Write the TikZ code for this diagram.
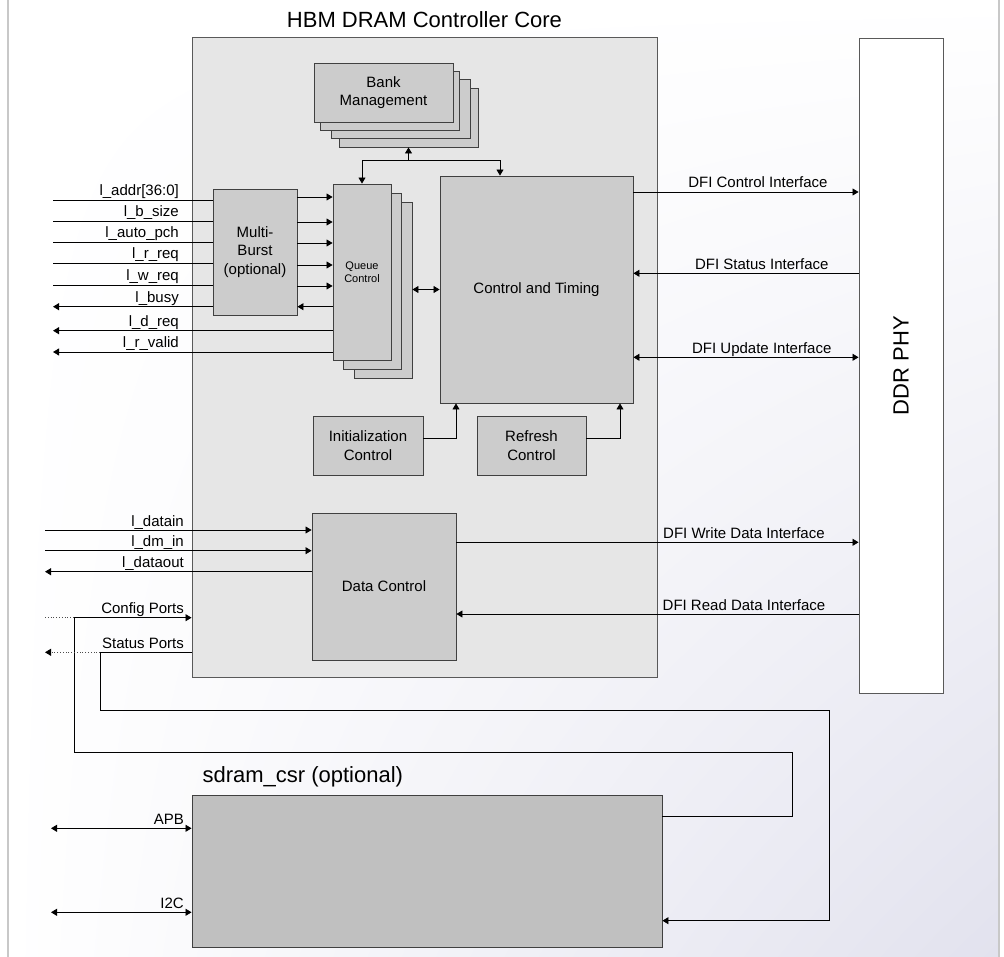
\documentclass[tikz,border=0pt]{standalone}
\usepackage{fontspec}
\setmainfont{Liberation Sans}
\usetikzlibrary{arrows.meta, positioning, calc, shadings}
\definecolor{boxgray}{RGB}{204,204,204}
\definecolor{coregray}{RGB}{230,230,230}
\definecolor{csrgray}{RGB}{192,192,192}
\definecolor{lav}{RGB}{226,226,238}
\definecolor{framegray}{RGB}{200,200,200}
\newcommand{\lblfont}{\fontsize{15}{18.5}\selectfont}
\newcommand{\ttlfont}{\fontsize{22}{26}\selectfont}
\newcommand{\qfont}{\fontsize{11}{13.5}\selectfont}

\begin{document}
\begin{tikzpicture}[
    x=1pt, y=-1pt,
    block/.style={rectangle, draw=black!75, fill=boxgray, line width=0.9pt, font=\lblfont, align=center, inner sep=0pt},
    arrow/.style={-{Triangle[length=6pt,width=7pt,color=black]}, line width=0.8pt},
    dblarrow/.style={{Triangle[length=6pt,width=7pt]}-{Triangle[length=6pt,width=7pt]}, line width=0.8pt},
    wire/.style={line width=0.8pt},
    sig/.style={font=\lblfont, anchor=base east, inner sep=0pt},
    dfi/.style={font=\lblfont, anchor=base, yshift=4pt, inner sep=0pt}
]
    \useasboundingbox (0,0) rectangle (1004,957);

    % Background
    \shade[upper left=white, upper right=white, lower left=white, lower right=lav] (8,0) rectangle (999,957);
    \draw[framegray, line width=1.5pt] (8,0) -- (8,957);
    \draw[framegray, line width=1.5pt] (999,0) -- (999,957);

    % Controller core
    \node [block, fill=coregray, draw=black!65, minimum width=465pt, minimum height=640pt] (core) at (424.5,357) {};
    \node [font=\ttlfont, anchor=base] (coretitle) at ([yshift=9pt]core.north) {HBM DRAM Controller Core};

    % DDR PHY
    \node [block, fill=white, draw=black!65, minimum width=84pt, minimum height=655pt] (phy) at (901,365.5) {};
    \node [font=\ttlfont, rotate=90] (phylabel) at (phy.center) {DDR PHY};

    % Bank Management
    \foreach \dx/\dy/\nm in {25/25/bank3, 17.5/16/bank2, 6.5/8/bank1}
        \node [block, minimum width=139pt, minimum height=59pt] (\nm) at (383.5+\dx,92.5+\dy) {};
    \node [block, minimum width=139pt, minimum height=59pt] (bank) at (383.5,92.5) {Bank\\Management};

    % Queue Control
    \foreach \dx/\dy/\nm in {21/18/queue2, 10/9/queue1}
        \node [block, minimum width=58pt, minimum height=176pt] (\nm) at (362+\dx,272+\dy) {};
    \node [block, font=\qfont, minimum width=58pt, minimum height=176pt] (queue) at (362,272) {Queue\\Control};

    % Multi-Burst
    \node [block, minimum width=84pt, minimum height=126pt] (multi) at (255,252) {Multi-\\Burst\\(optional)};

    % Control and Timing
    \node [block, minimum width=193pt, minimum height=227pt] (ctrl) at (536.5,289.5) {Control and Timing};

    % Initialization / Refresh
    \node [block, minimum width=110pt, minimum height=59pt] (init) at (368,445.5) {Initialization\\Control};
    \node [block, minimum width=109pt, minimum height=59pt] (refresh) at (531.5,445.5) {Refresh\\Control};

    % Data Control
    \node [block, minimum width=144pt, minimum height=147pt] (datactl) at (384,586.5) {Data Control};

    % sdram_csr
    \node [block, fill=csrgray, minimum width=470pt, minimum height=152pt] (csr) at (427,871) {};
    \node [font=\ttlfont, anchor=base west] (csrtitle) at (199,782) {sdram\_csr (optional)};

    % Bank links
    \coordinate (split) at (bank3.south |- 0,160);
    \draw [arrow] (split) -- (bank3.south);
    \draw [arrow] (split) -| (queue.north);
    \draw [arrow] (split) -| ([xshift=-36.5pt]ctrl.north);

    % Queue <-> Control
    \draw [dblarrow] (queue2.east |- ctrl.west) -- (ctrl.west);

    % Init / Refresh
    \draw [arrow] ([yshift=7pt]init.east) -| ([xshift=-80.5pt]ctrl.south);
    \draw [arrow] ([yshift=7pt]refresh.east) -| ([xshift=83.5pt]ctrl.south);

    % DFI interfaces
    \coordinate (dfic) at ([yshift=97.5pt]ctrl.east);
    \coordinate (dfis) at ([yshift=16.2pt]ctrl.east);
    \coordinate (dfiu) at ([yshift=-67.8pt]ctrl.east);
    \coordinate (dfiw) at ([yshift=44.2pt]datactl.east);
    \coordinate (dfir) at ([yshift=-27.5pt]datactl.east);
    \draw [arrow] (dfic) -- (dfic -| phy.west) node [dfi, pos=0.553] {DFI Control Interface};
    \draw [arrow] (dfis -| phy.west) -- (dfis) node [dfi, pos=0.43] {DFI Status Interface};
    \draw [dblarrow] (dfiu) -- (dfiu -| phy.west) node [dfi, pos=0.57] {DFI Update Interface};
    \draw [arrow] (dfiw) -- (dfiw -| phy.west) node [dfi, pos=0.715] {DFI Write Data Interface};
    \draw [arrow] (dfir -| phy.west) -- (dfir) node [dfi, pos=0.285] {DFI Read Data Interface};

    % Local interface inputs
    \foreach \txt/\yy/\yq [count=\i] in {{l\_addr[36:0]}/200/197, {l\_b\_size}/221/222, {l\_auto\_pch}/242/243, {l\_r\_req}/263/265, {l\_w\_req}/285/286} {
        \coordinate (in\i) at (53,\yy);
        \draw [wire] (in\i) -- (in\i -| multi.west);
        \node [sig] (insig\i) at (179,\yy-4) {\txt};
        \coordinate (mq\i) at (multi.east |- 0,\yq);
        \draw [arrow] (mq\i) -- (mq\i -| queue.west);
    }

    % Local interface outputs
    \coordinate (busy) at (53,306.7);
    \coordinate (dreq) at (53,330.7);
    \coordinate (rvalid) at (53,352);
    \draw [arrow] (busy -| multi.west) -- (busy);
    \draw [arrow] (busy -| queue.west) -- (busy -| multi.east);
    \draw [arrow] (dreq -| queue.west) -- (dreq);
    \draw [arrow] (rvalid -| queue.west) -- (rvalid);
    \node [sig] (busysig) at (179,302.7) {l\_busy};
    \node [sig] (dreqsig) at (179,326.7) {l\_d\_req};
    \node [sig] (rvalidsig) at (179,348) {l\_r\_valid};

    % Data path
    \foreach \txt/\yy [count=\i] in {{l\_datain}/530, {l\_dm\_in}/550.7} {
        \coordinate (din\i) at (45,\yy);
        \draw [arrow] (din\i) -- (din\i -| datactl.west);
        \node [sig] (dinsig\i) at (184,\yy-4) {\txt};
    }
    \coordinate (dout) at (45,571.7);
    \draw [arrow] (dout -| datactl.west) -- (dout);
    \node [sig] (doutsig) at (184,567.7) {l\_dataout};

    % Config / Status ports
    \coordinate (cfgstub) at (45,617.7);
    \coordinate (cfgturn) at (74,617.7);
    \draw [dotted, black!70, line width=0.8pt] (cfgstub) -- (cfgturn);
    \draw [arrow] ([yshift=55pt]csr.east) -- ++(130,0) |- (74,752) |- (cfgturn -| core.west);
    \node [sig] (cfgsig) at (184,613.7) {Config Ports};

    \coordinate (stout) at (core.west |- 0,652.3);
    \coordinate (stjoin) at (100,652.3);
    \coordinate (stend) at (45,652.3);
    \draw [wire] (stout) -- (stjoin);
    \draw [arrow, dotted, black!70] (stjoin) -- (stend);
    \draw [arrow] (stjoin) |- (829,710.7) |- ([yshift=-49.7pt]csr.east);
    \node [sig] (stsig) at (184,648.3) {Status Ports};

    % APB / I2C
    \coordinate (apb) at (51,828.3);
    \coordinate (iic) at (51,912.3);
    \draw [dblarrow] (apb) -- (apb -| csr.west);
    \draw [dblarrow] (iic) -- (iic -| csr.west);
    \node [sig] (apbsig) at (184,824.3) {APB};
    \node [sig] (iicsig) at (184,908.3) {I2C};
\end{tikzpicture}
\end{document}
